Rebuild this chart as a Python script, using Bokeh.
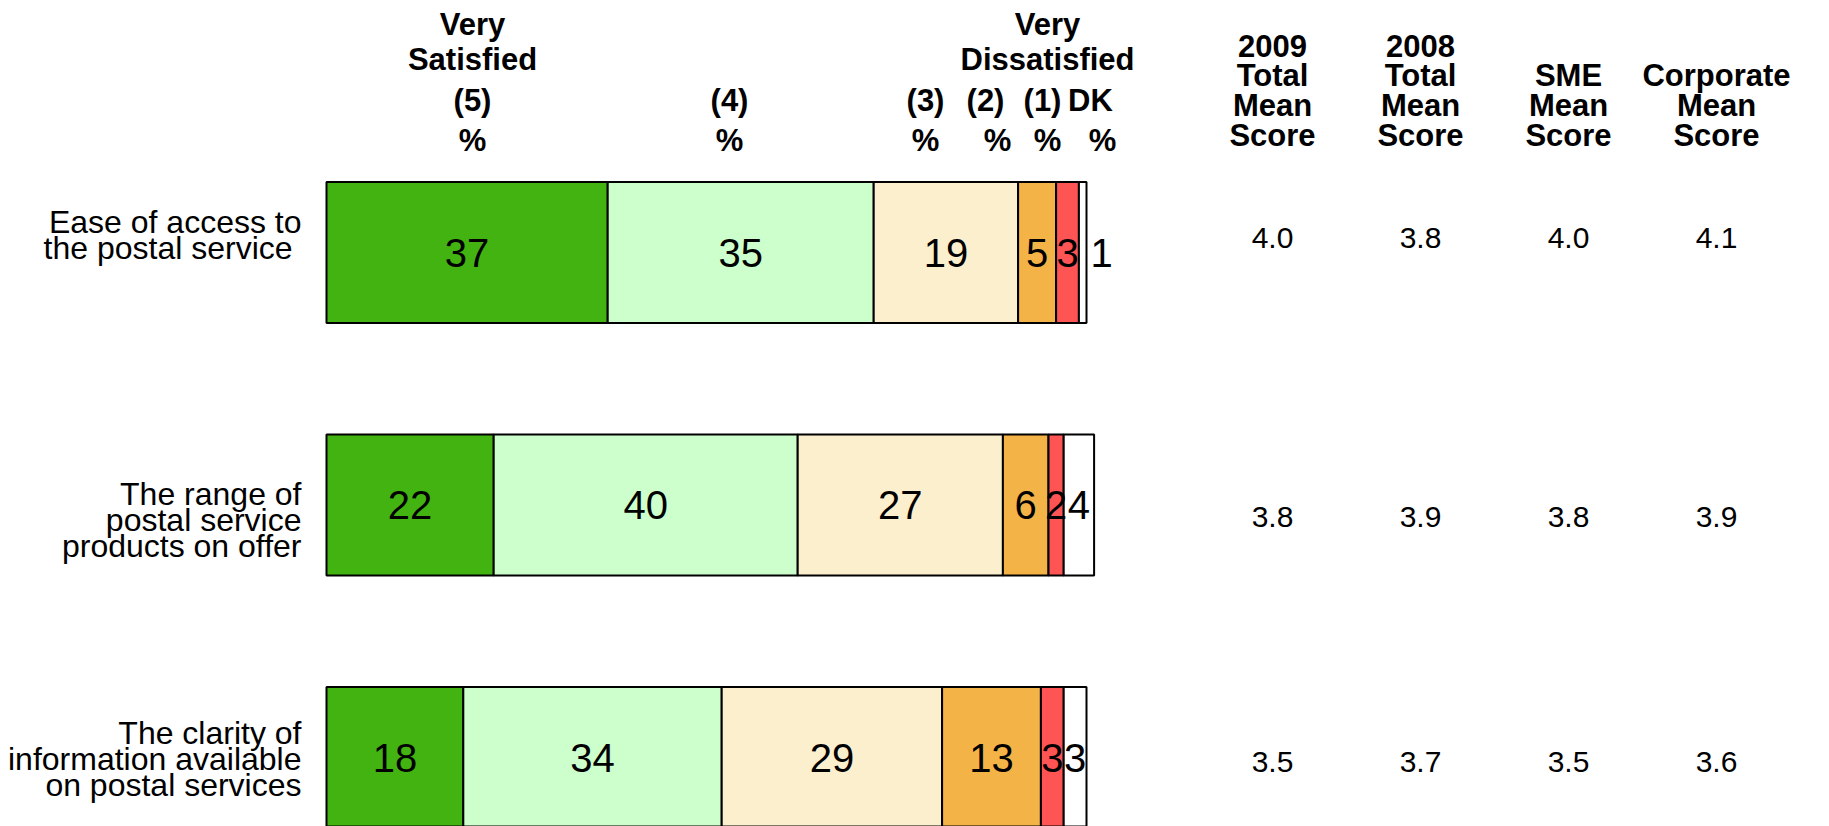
from bokeh.plotting import figure
from bokeh.models import ColumnDataSource, Range1d
from bokeh.core.properties import value
from bokeh.embed import file_html
from bokeh.resources import INLINE

# ---------------- data ----------------
categories = [
    ["Ease of access to", "the postal service\u00a0"],
    ["The range of", "postal service", "products on offer"],
    ["The clarity of", "information available", "on postal services"],
]
very_satisfied = [37, 22, 18]
satisfied = [35, 40, 34]
neither = [19, 27, 29]
dissatisfied = [5, 6, 13]
very_dissatisfied = [3, 2, 3]
dont_know = [1, 4, 3]

mean_2009 = [4.0, 3.8, 3.5]
mean_2008 = [3.8, 3.9, 3.7]
mean_sme = [4.0, 3.8, 3.5]
mean_corporate = [4.1, 3.9, 3.6]

score_headers = [
    ["2009", "Total", "Mean", "Score"],
    ["2008", "Total", "Mean", "Score"],
    ["SME", "Mean", "Score"],
    ["Corporate", "Mean", "Score"],
]

# ---------------- layout ----------------
W, H = 1813, 826
MARGIN = 0
X0 = 326.0          # page x of value 0
PPU = 7.6           # px per percentage point
Y0 = 252.0          # page y of first bar centre
ROW = 252.5         # px between bars
BAR_H = 141.0

FONT = value("Liberation Sans")
seg_colors = ["#43B311", "#CCFFCC", "#FCEFCE", "#F4B347", "#FF5454", "#FFFFFF"]
keys = ["vs", "s", "n", "d", "vd", "dk"]


def xd(px):
    return (px - X0) / PPU


def yd(px):
    return (px - Y0) / ROW


def ybase(px, fs):
    # alphabetic baseline at page px, with empirical renderer correction
    return yd(px - 0.36 * fs)


p = figure(width=W, height=H, output_backend="svg", toolbar_location=None,
           x_axis_location=None, y_axis_location=None, min_border=0,
           x_range=Range1d(xd(MARGIN), xd(MARGIN + W)),
           y_range=Range1d(yd(MARGIN + H), yd(MARGIN)))
p.grid.visible = False
p.outline_line_color = None
p.background_fill_color = "white"
p.border_fill_color = "white"

rows = list(range(len(categories)))
src = ColumnDataSource(dict(row=rows, vs=very_satisfied, s=satisfied, n=neither,
                            d=dissatisfied, vd=very_dissatisfied, dk=dont_know))
p.hbar_stack(keys, y="row", height=BAR_H / ROW, source=src,
             fill_color=seg_colors, line_color="black", line_width=2)

# segment labels
series = [very_satisfied, satisfied, neither, dissatisfied, very_dissatisfied, dont_know]
FS_BAR = 40
lx, ly, lt = [], [], []
for r in rows:
    left = 0
    for s in series:
        v = s[r]
        cx = left + v / 2 if v >= 2 else left + v + 2
        lx.append(cx)
        ly.append(ybase(Y0 + r * ROW + 14.5, FS_BAR))
        lt.append(str(v))
        left += v
p.text(x=lx, y=ly, text=lt, text_font=FONT, text_font_size=f"{FS_BAR}px",
       text_align="center", text_baseline="alphabetic", text_color="black")

# category labels
FS_LAB = 32
label_centres = [235, 520, 759]
LINE = 26
cx_, cy_, ct_ = [], [], []
for r, lines in enumerate(categories):
    n = len(lines)
    for i, t in enumerate(lines):
        base = label_centres[r] - (n - 1) * LINE / 2 + i * LINE + 11
        cx_.append(xd(301))
        cy_.append(ybase(base, FS_LAB))
        ct_.append(t)
p.text(x=cx_, y=cy_, text=ct_, text_font=FONT, text_font_size=f"{FS_LAB}px",
       text_align="right", text_baseline="alphabetic", text_color="black")

# mean scores
FS_VAL = 30
value_centres = [236, 515, 760]
score_cols = [mean_2009, mean_2008, mean_sme, mean_corporate]
COL0, COLSTEP = 1272, 148
mx, my, mt = [], [], []
for c, col in enumerate(score_cols):
    for r, v in enumerate(col):
        mx.append(xd(COL0 + c * COLSTEP))
        my.append(ybase(value_centres[r] + 12, FS_VAL))
        mt.append(f"{v:.1f}")
p.text(x=mx, y=my, text=mt, text_font=FONT, text_font_size=f"{FS_VAL}px",
       text_align="center", text_baseline="alphabetic", text_color="black")

# score headers (bottom aligned)
FS_HDR = 31
hx, hy, ht = [], [], []
for c, lines in enumerate(score_headers):
    n = len(lines)
    for i, t in enumerate(lines):
        base = 146 - (n - 1 - i) * 29.7
        hx.append(xd(COL0 + c * COLSTEP))
        hy.append(ybase(base, FS_HDR))
        ht.append(t)
p.text(x=hx, y=hy, text=ht, text_font=FONT, text_font_size=f"{FS_HDR}px",
       text_font_style="bold", text_align="center", text_baseline="alphabetic",
       text_color="black")

# response-scale headers
resp_headers = [
    ("Very", 472, 35), ("Satisfied", 472, 70), ("(5)", 472, 111), ("%", 472, 151),
    ("(4)", 729, 111), ("%", 729, 151),
    ("(3)", 925, 111), ("%", 925, 151),
    ("(2)", 985, 111), ("%", 997, 151),
    ("Very", 1047, 35), ("Dissatisfied", 1047, 70), ("(1)", 1042, 111), ("%", 1047, 151),
    ("DK", 1090, 111), ("%", 1102, 151),
]
p.text(x=[xd(h[1]) for h in resp_headers], y=[ybase(h[2], FS_HDR) for h in resp_headers],
       text=[h[0] for h in resp_headers], text_font=FONT, text_font_size=f"{FS_HDR}px",
       text_font_style="bold", text_align="center", text_baseline="alphabetic",
       text_color="black")

open("out.html", "w").write(file_html(p, INLINE))
